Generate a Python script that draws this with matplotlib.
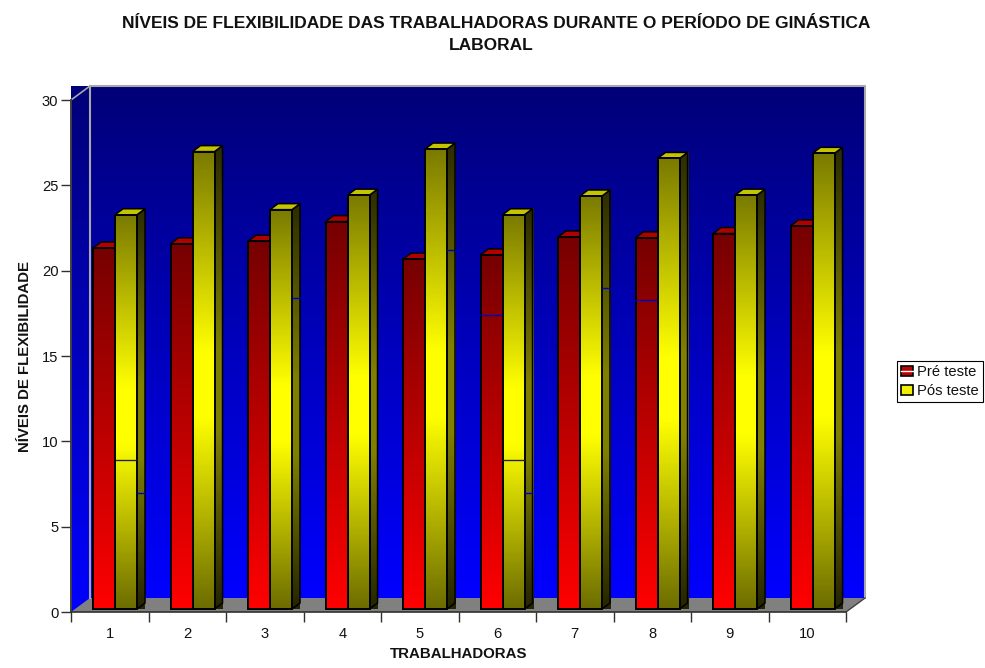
import matplotlib
matplotlib.use('Agg')
import matplotlib.pyplot as plt
import numpy as np
from matplotlib.colors import LinearSegmentedColormap
from matplotlib.patches import Patch, Polygon
from matplotlib.lines import Line2D
from matplotlib.legend_handler import HandlerTuple

plt.rcParams['font.family'] = ['Liberation Sans', 'DejaVu Sans']

trabalhadoras = list(range(1, 11))
pre_teste = [21.15, 21.4, 21.55, 22.7, 20.5, 20.75, 21.8, 21.75, 22.0, 22.45]
pos_teste = [23.1, 26.8, 23.4, 24.25, 26.95, 23.1, 24.2, 26.4, 24.25, 26.7]
y_ticks = [0, 5, 10, 15, 20, 25, 30]

# small stray lines the original renderer left on the bars (worker, value)
riscos_pre = [(6, 17.4), (8, 18.3)]
riscos_pos = [(1, 8.9), (6, 8.9)]
riscos_lado = [(1, 7.0), (3, 18.4), (5, 21.2), (6, 7.0), (7, 19.0)]

# gradients run top of the shape -> bottom of the shape
cm_wall = LinearSegmentedColormap.from_list('wall', ['#000078', '#0000ff'])
cm_red = LinearSegmentedColormap.from_list('red', ['#760000', '#ff0000'])
cm_yel = LinearSegmentedColormap.from_list('yel', [(0, '#7a7a00'), (0.44, '#ffff00'), (0.58, '#ffff00'), (1, '#6c6c00')])
cm_side = LinearSegmentedColormap.from_list('side', [(0, '#2c2c00'), (0.44, '#808000'), (0.62, '#808000'), (1, '#242400')])

fig = plt.figure(figsize=(9.85, 6.68), dpi=100)
ax = fig.add_axes([71 / 985, 1 - 612 / 668, 775 / 985, 512 / 668])

px_x = 10 / 775
px_y = 30 / 512
depth_x, depth_y = 19 * px_x, 14 * px_y
bar_dx, bar_dy = 8 * px_x, 6 * px_y
base = 3 * px_y
grad = np.linspace(0, 1, 256).reshape(-1, 1)


def gradient(cmap, x0, x1, y0, y1, z, clip=None):
    im = ax.imshow(grad, cmap=cmap, extent=(x0, x1, y0, y1), origin='upper',
                   aspect='auto', zorder=z, clip_on=False)
    if clip is not None:
        im.set_clip_path(clip)
    return im


def draw_bar(x0, x1, val, cmap, top_col, z):
    top = base + val
    # side face
    side = Polygon([(x1, base), (x1 + bar_dx, base + bar_dy),
                    (x1 + bar_dx, top + bar_dy), (x1, top)],
                   closed=True, fc='none', ec='none', transform=ax.transData)
    ax.add_patch(side)
    gradient(cm_side, x1, x1 + bar_dx, base, top + bar_dy, z, clip=side)
    ax.add_patch(Polygon(side.get_xy(), closed=True, fc='none', ec='black', lw=1.1,
                         zorder=z + 0.1, clip_on=False))
    # top face
    ax.add_patch(Polygon([(x0, top), (x1, top), (x1 + bar_dx, top + bar_dy),
                          (x0 + bar_dx, top + bar_dy)],
                         closed=True, fc=top_col, ec='black', lw=1.1,
                         zorder=z + 0.1, clip_on=False))
    # front face
    gradient(cmap, x0, x1, base, top, z + 0.2)
    ax.add_patch(plt.Rectangle((x0, base), x1 - x0, val, fc='none', ec='black', lw=1.4,
                               zorder=z + 0.3, clip_on=False))


# walls and floor
gradient(cm_wall, depth_x, 10 + depth_x, depth_y, 30 + depth_y, 1)
left_wall = Polygon([(0, 0), (depth_x, depth_y), (depth_x, 30 + depth_y), (0, 30)],
                    closed=True, fc='none', ec='none')
ax.add_patch(left_wall)
gradient(cm_wall, 0, depth_x, 0, 30 + depth_y, 1, clip=left_wall)
ax.add_patch(Polygon([(0, 0), (depth_x, depth_y), (10 + depth_x, depth_y), (10, 0)],
                     closed=True, fc='#808080', ec='none', zorder=2, clip_on=False))
ax.plot([depth_x, depth_x, 10 + depth_x, 10 + depth_x],
        [depth_y, 30 + depth_y, 30 + depth_y, depth_y],
        color='#a8a8a8', lw=1.5, zorder=2, clip_on=False)
ax.plot([0, depth_x], [30, 30 + depth_y], color='#a8a8a8', lw=1.2, zorder=2, clip_on=False)
ax.plot([10, 10 + depth_x], [0, depth_y], color='#404040', lw=1, zorder=2, clip_on=False)

z = 3
for i, (a, b) in enumerate(zip(pre_teste, pos_teste)):
    draw_bar(i + 0.284, i + 0.568, a, cm_red, '#b00000', z)
    draw_bar(i + 0.568, i + 0.852, b, cm_yel, '#c4c400', z + 1)
    z += 2

for n, v in riscos_pre:
    ax.plot([n - 1 + 0.29, n - 1 + 0.56], [v, v], color='#0000c0', lw=1, zorder=40)
for n, v in riscos_pos:
    ax.plot([n - 1 + 0.575, n - 1 + 0.845], [v, v], color='#202040', lw=1, zorder=40)
for n, v in riscos_lado:
    ax.plot([n - 1 + 0.858, n - 1 + 0.95], [v, v], color='#0000c0', lw=1, zorder=40)

ax.set_xlim(0, 10)
ax.set_ylim(0, 30)
for s in ['top', 'right']:
    ax.spines[s].set_visible(False)
ax.spines['left'].set_color('#404040')
ax.spines['left'].set_linewidth(1.4)
ax.spines['left'].set_zorder(50)
ax.spines['bottom'].set_color('#303030')
ax.spines['bottom'].set_linewidth(1.2)
ax.spines['bottom'].set_zorder(50)

ax.set_yticks(y_ticks)
ax.set_xticks(range(11))
ax.set_xticklabels([])
ax.set_xticks(np.arange(10) + 0.5, minor=True)
ax.set_xticklabels(trabalhadoras, minor=True)
ax.tick_params(axis='x', which='major', length=7, width=1, color='#303030')
ax.tick_params(axis='x', which='minor', length=0, pad=11, labelsize=10.6, labelcolor='#111111')
ax.tick_params(axis='y', length=7, width=1, color='#303030', pad=2, labelsize=10.6, labelcolor='#111111')

fig.text(496 / 985, 1 - 23 / 668, 'NÍVEIS DE FLEXIBILIDADE DAS TRABALHADORAS DURANTE O PERÍODO DE GINÁSTICA',
         ha='center', va='center', fontsize=12.5, fontweight='bold', color='#111111')
fig.text(491 / 985, 1 - 46 / 668, 'LABORAL',
         ha='center', va='center', fontsize=12.5, fontweight='bold', color='#111111')
fig.text(459 / 985, 1 - 654 / 668, 'TRABALHADORAS',
         ha='center', va='center', fontsize=10.8, fontweight='bold', color='#111111')
fig.text(25 / 985, 1 - 356 / 668, 'NÍVEIS DE FLEXIBILIDADE', rotation=90,
         ha='center', va='center', fontsize=10.8, fontweight='bold', color='#111111')

handles = [
    (Patch(fc='#c00000', ec='black', lw=1.2), Line2D([], [], color='white', lw=1)),
    (Patch(fc='#f0f000', ec='black', lw=1.2),),
]
leg = fig.legend(handles, ['Pré teste', 'Pós teste'],
                 handler_map={tuple: HandlerTuple(ndivide=1, pad=0)},
                 loc='center', bbox_to_anchor=(940 / 985, 1 - 381.5 / 668),
                 fontsize=10.6, fancybox=False, framealpha=1, edgecolor='black',
                 handlelength=0.8, handleheight=0.7, handletextpad=0.25,
                 labelspacing=0.35, borderpad=0.3, borderaxespad=0)
leg.get_frame().set_linewidth(0.8)
for t in leg.get_texts():
    t.set_color('#111111')

plt.savefig('out.png', dpi=100)
